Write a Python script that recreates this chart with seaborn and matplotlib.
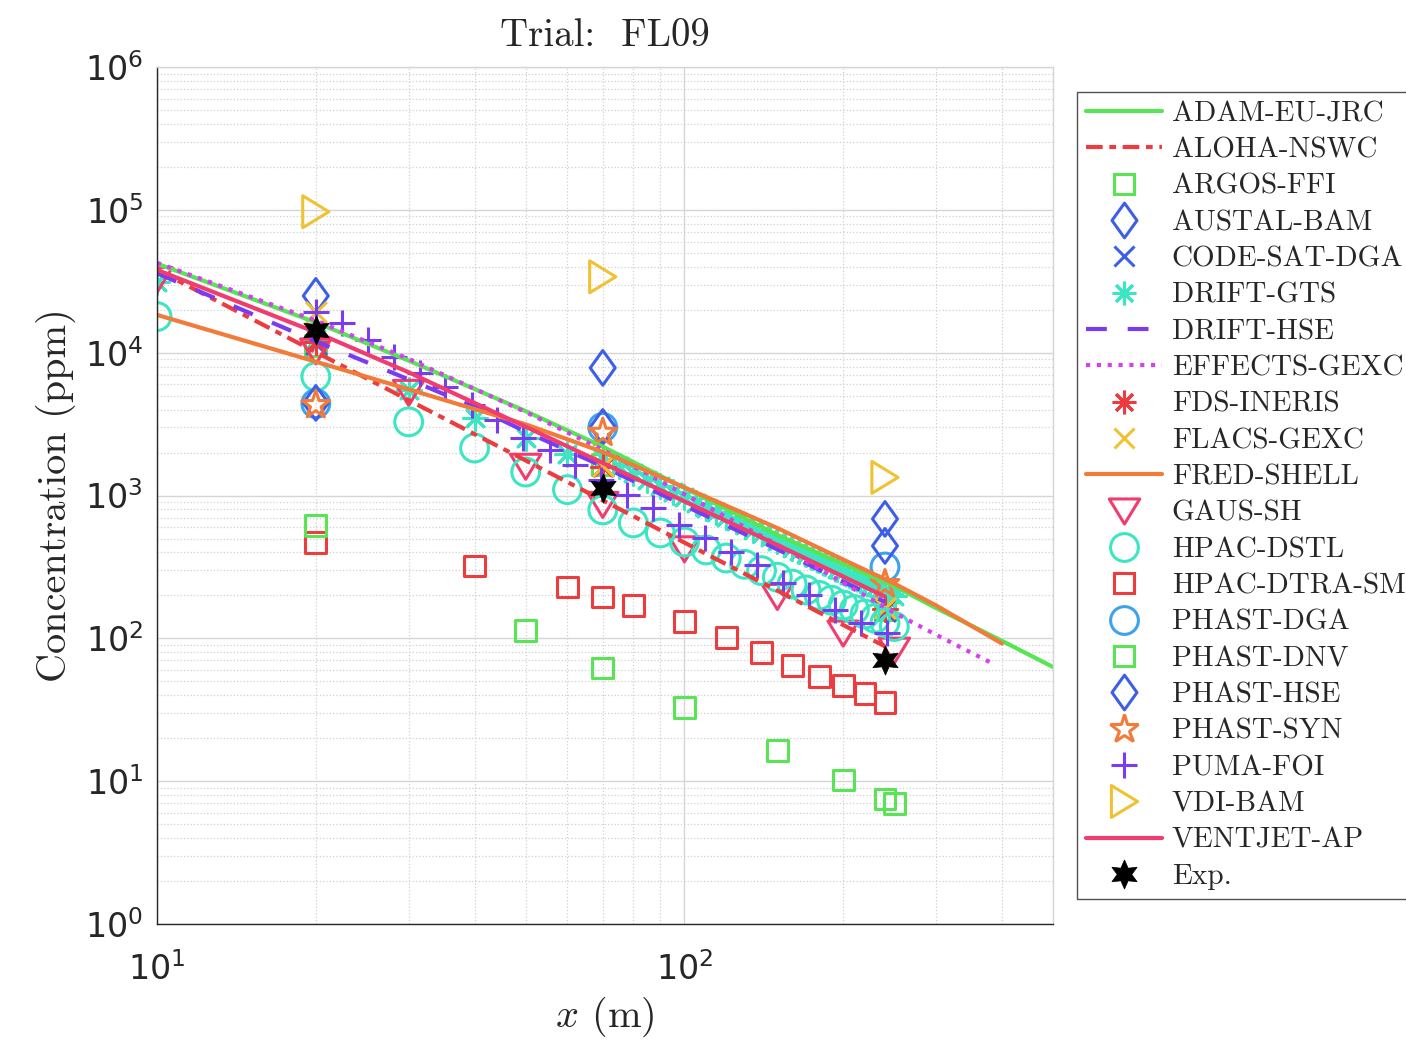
import numpy as np
import pandas as pd
import seaborn as sns
import matplotlib.pyplot as plt
from matplotlib.path import Path
from matplotlib.lines import Line2D
from matplotlib.ticker import LogLocator, NullFormatter

# =========================
# DATA  (concentration in ppm)
# =========================
adam_x = [10, 20, 30, 50, 70, 100, 150, 200, 250, 300, 400, 500]
adam_c = [42000, 16300, 8800, 3900, 2200, 1130, 530, 331, 232, 163, 96, 63]

aloha_x = [10, 20, 30, 50, 70, 100, 150, 200, 240]
aloha_c = [38000, 10100, 4650, 1760, 925, 468, 216, 124, 88]

argos_x = [20, 70, 240]
argos_c = [11300, 1640, 158]

austal_x = [20, 70, 240]
austal_c = [25000, 7830, 686]

codesat_x = [20, 70, 240]
codesat_c = [11500, 1600, 155]

drift_gts_x = [10, 20, 30, 40, 50, 60, 70, 75, 80, 85, 90, 95, 100, 105, 110, 115,
               120, 125, 130, 135, 140, 145, 150, 155, 160, 165, 170, 175, 180, 185,
               190, 195, 200, 205, 210, 215, 220, 225, 230, 235, 240, 245, 250]
drift_gts_c = [31300, 12500, 5490, 3500, 2530, 1950, 1800, 1598, 1429, 1286, 1165, 1061,
               971, 892, 823, 763, 708, 660, 617, 578, 543, 511, 482, 455, 431, 408,
               388, 369, 351, 335, 320, 306, 293, 280, 269, 258, 248, 239, 230, 222,
               213, 206, 199]

drift_hse_x = [10, 20, 30, 40, 50, 70, 100, 150, 200, 240]
drift_hse_c = [36000, 12000, 6500, 4170, 2800, 1600, 850, 420, 250, 180]

effects_x = [10, 20, 30, 50, 70, 100, 150, 200, 250, 300, 380]
effects_c = [42600, 16800, 9060, 3840, 2090, 1020, 453, 245, 151, 106, 68]

fds_x = [20, 70, 240]
fds_c = [11800, 1580, 160]

flacs_x = [20, 70, 240]
flacs_c = [19300, 1620, 162]

fred_x = [10, 20, 30, 50, 70, 100, 150, 200, 250, 300, 400]
fred_c = [18400, 8650, 5540, 3150, 2020, 1140, 592, 356, 242, 170, 92]

gaus_x = [10, 20, 30, 50, 70, 100, 150, 200, 250]
gaus_c = [32300, 10200, 5230, 1590, 860, 420, 195, 108, 82]

hpac_dstl_x = [10, 20, 30, 40, 50, 60, 70, 80, 90, 100, 110, 120, 130, 140, 150,
               160, 170, 180, 190, 200, 210, 220, 230, 240, 250]
hpac_dstl_c = [17900, 6800, 3280, 2150, 1460, 1100, 793, 643, 547, 473, 416, 365, 330,
               298, 268, 240, 218, 200, 185, 171, 159, 148, 138, 129, 121]

hpac_dtra_x = [20, 40, 60, 70, 80, 100, 120, 140, 160, 180, 200, 220, 240]
hpac_dtra_c = [466, 321, 229, 195, 171, 132, 102, 80, 65, 54, 47, 41, 35.5]

phast_dga_x = [20, 70, 240]
phast_dga_c = [4400, 3000, 316]

phast_dnv_x = [20, 50, 70, 100, 150, 200, 240, 250]
phast_dnv_c = [620, 113, 62, 32.6, 16.3, 10.2, 7.5, 7.0]

phast_hse_x = [20, 70, 240]
phast_hse_c = [4450, 3020, 444]

phast_syn_x = [20, 70, 240]
phast_syn_c = [4300, 2750, 240]

puma_x = [20, 22.4, 25.1, 28.1, 31.5, 35.2, 39.5, 44.2, 49.5, 55.5, 62.1, 69.6,
          77.9, 87.3, 97.8, 109.5, 122.6, 137.3, 153.8, 172.3, 193, 216, 242]
puma_c = [19400, 16200, 12300, 9340, 7230, 5760, 4310, 3380, 2530, 2090, 1640, 1290,
          1010, 819, 622, 505, 403, 327, 244, 201, 158, 128, 109]

vdi_x = [20, 70, 240]
vdi_c = [97000, 34000, 1340]

ventjet_x = [10, 20, 30, 50, 70, 100, 150, 200, 240]
ventjet_c = [38000, 13900, 7290, 3030, 1690, 910, 451, 271, 196]

exp_x = [20, 70, 240]
exp_c = [14500, 1130, 70]

# =========================
# MARKER SHAPES (matlab-like)
# =========================
diamond = Path([(0, 1), (0.72, 0), (0, -1), (-0.72, 0), (0, 1)], closed=True)
tri_down = Path([(-1, 0.82), (1, 0.82), (0, -0.82), (-1, 0.82)], closed=True)
tri_right = Path([(-0.82, 1), (0.82, 0), (-0.82, -1), (-0.82, 1)], closed=True)
asterisk = (8, 2, 0)
hexagram = (6, 1, 0)

GREEN = "#58e455"
RED = "#ee3b3d"
BLUE = "#3d5fe8"
TURQ = "#3ce6c2"
PURPLE = "#7a3cf0"
MAGENTA = "#d93ef0"
YELLOW = "#f0c232"
ORANGE = "#f27b3a"
PINK = "#f03c6e"
LBLUE = "#3ea2ee"

# kind, label, x, c, color, style, size
models = [
    ("line", "ADAM-EU-JRC", adam_x, adam_c, GREEN, "-", None),
    ("line", "ALOHA-NSWC", aloha_x, aloha_c, RED, (0, (4, 1.6, 1.6, 1.6)), None),
    ("mark", "ARGOS-FFI", argos_x, argos_c, GREEN, "s", 15),
    ("mark", "AUSTAL-BAM", austal_x, austal_c, BLUE, diamond, 25),
    ("mark", "CODE-SAT-DGA", codesat_x, codesat_c, BLUE, "x", 15),
    ("mark", "DRIFT-GTS", drift_gts_x, drift_gts_c, TURQ, asterisk, 17),
    ("line", "DRIFT-HSE", drift_hse_x, drift_hse_c, PURPLE, (0, (5, 5)), None),
    ("line", "EFFECTS-GEXC", effects_x, effects_c, MAGENTA, (0, (1, 1.6)), None),
    ("mark", "FDS-INERIS", fds_x, fds_c, RED, asterisk, 17),
    ("mark", "FLACS-GEXC", flacs_x, flacs_c, YELLOW, "x", 15),
    ("line", "FRED-SHELL", fred_x, fred_c, ORANGE, "-", None),
    ("mark", "GAUS-SH", gaus_x, gaus_c, PINK, tri_down, 22),
    ("mark", "HPAC-DSTL", hpac_dstl_x, hpac_dstl_c, TURQ, "o", 20),
    ("mark", "HPAC-DTRA-SM", hpac_dtra_x, hpac_dtra_c, RED, "s", 15),
    ("mark", "PHAST-DGA", phast_dga_x, phast_dga_c, LBLUE, "o", 20),
    ("mark", "PHAST-DNV", phast_dnv_x, phast_dnv_c, GREEN, "s", 15),
    ("mark", "PHAST-HSE", phast_hse_x, phast_hse_c, BLUE, diamond, 25),
    ("mark", "PHAST-SYN", phast_syn_x, phast_syn_c, ORANGE, "*", 21),
    ("mark", "PUMA-FOI", puma_x, puma_c, PURPLE, "+", 19),
    ("mark", "VDI-BAM", vdi_x, vdi_c, YELLOW, tri_right, 23),
    ("line", "VENTJET-AP", ventjet_x, ventjet_c, PINK, "-", None),
    ("exp", "Exp.", exp_x, exp_c, "black", hexagram, 21),
]

LW = 3.0
MEW = 2.2

# =========================
# PLOT
# =========================
sns.set_style("white")
plt.rcParams["axes.formatter.use_mathtext"] = True

fig = plt.figure(figsize=(14.06, 10.44), dpi=100)
ax = fig.add_axes([0.1117, 0.1149, 0.6373, 0.8209])
ax.set_xscale("log")
ax.set_yscale("log")

handles = []
for kind, label, xs, cs, col, sty, size in models:
    df = pd.DataFrame({"x": xs, "c": cs})
    if kind == "line":
        sns.lineplot(data=df, x="x", y="c", ax=ax, color=col, linestyle=sty,
                     linewidth=LW, estimator=None, sort=False, legend=False)
        h = Line2D([], [], color=col, linestyle=sty, linewidth=LW)
    elif kind == "exp":
        sns.scatterplot(data=df, x="x", y="c", ax=ax, marker=sty, s=size ** 2,
                        facecolor=col, edgecolor=col, linewidth=0.5, zorder=5,
                        legend=False)
        h = Line2D([], [], linestyle="none", marker=sty, markersize=size,
                   markerfacecolor=col, markeredgecolor=col, markeredgewidth=0.5)
    else:
        line_art = isinstance(sty, tuple) or sty in ("x", "+")
        if line_art:
            sns.scatterplot(data=df, x="x", y="c", ax=ax, marker=sty, s=size ** 2,
                            color=col, linewidth=MEW, legend=False)
        else:
            sns.scatterplot(data=df, x="x", y="c", ax=ax, marker=sty, s=size ** 2,
                            facecolor="none", edgecolor=col, linewidth=MEW,
                            legend=False)
        h = Line2D([], [], linestyle="none", marker=sty, markersize=size,
                   markerfacecolor="none", markeredgecolor=col, markeredgewidth=MEW)
    handles.append((h, label))

ax.set_xlim(10, 500)
ax.set_ylim(1, 1e6)

ax.yaxis.set_major_locator(LogLocator(base=10, numticks=20))
ax.yaxis.set_minor_locator(LogLocator(base=10, subs=np.arange(2, 10), numticks=100))
ax.yaxis.set_minor_formatter(NullFormatter())
ax.xaxis.set_minor_locator(LogLocator(base=10, subs=np.arange(2, 10), numticks=100))
ax.xaxis.set_minor_formatter(NullFormatter())

ax.set_axisbelow(True)
ax.grid(True, which="major", color="#d6d6d6", linewidth=1.0)
ax.grid(True, which="minor", color="#d0d0d0", linestyle=":", linewidth=0.9)

for side in ("left", "bottom"):
    ax.spines[side].set_color("#262626")
    ax.spines[side].set_linewidth(1.0)
for side in ("top", "right"):
    ax.spines[side].set_color("#d6d6d6")
    ax.spines[side].set_linewidth(1.0)

ax.tick_params(which="both", direction="in", top=False, right=False,
               colors="#262626")
ax.tick_params(which="major", length=7, labelsize=24, pad=10)
ax.tick_params(axis="x", which="major", pad=20)
ax.tick_params(which="minor", length=4)

ax.set_title("Trial:  FL09", family="cmr10", fontsize=28, pad=15)
ax.set_xlabel("$x$ (m)", family="cmr10", math_fontfamily="cm", fontsize=29,
              labelpad=6)
ax.set_ylabel("Concentration (ppm)", family="cmr10", fontsize=29, labelpad=6)

leg = fig.legend([h for h, _ in handles], [l for _, l in handles],
                 loc="upper left", bbox_to_anchor=(1077 / 1406, 1 - 92 / 1044),
                 borderaxespad=0, frameon=True, fancybox=False,
                 prop={"family": "cmr10", "size": 21},
                 handlelength=2.6, handletextpad=0.35, labelspacing=0.34,
                 borderpad=0.3, numpoints=1)
leg.get_frame().set_edgecolor("#262626")
leg.get_frame().set_linewidth(1.0)

plt.savefig("out.png", dpi=100)
